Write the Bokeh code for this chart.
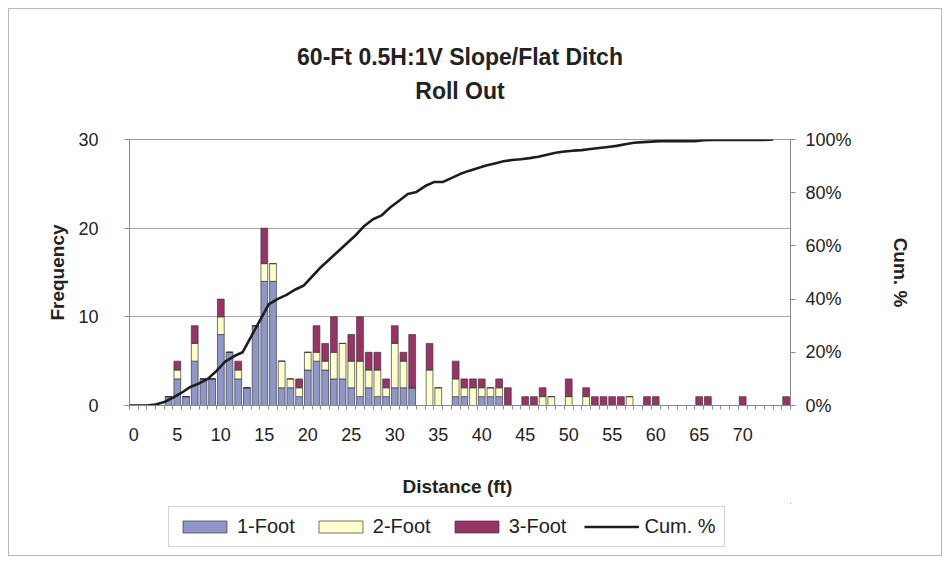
from bokeh.plotting import figure
from bokeh.layouts import column, row
from bokeh.models import Range1d, LinearAxis, FixedTicker, Legend, LegendItem, Label, ColumnDataSource, Spacer
from bokeh.embed import file_html
from bokeh.resources import INLINE

# ---------------- data ----------------
distance = list(range(76))
x_tick_values = [0, 5, 10, 15, 20, 25, 30, 35, 40, 45, 50, 55, 60, 65, 70]
x_tick_labels = ["0", "5", "10", "15", "20", "25", "30", "35", "40", "45", "50", "55", "60", "65", "70"]

one_foot = [0, 0, 0, 0, 1, 3, 1, 5, 3, 3,
            8, 6, 3, 2, 9, 14, 14, 2, 2, 1,
            4, 5, 4, 3, 3, 2, 1, 2, 1, 1,
            2, 2, 2, 0, 0, 0, 0, 1, 1, 0,
            1, 1, 1, 0, 0, 0, 0, 0, 0, 0,
            0, 0, 0, 0, 0, 0, 0, 0, 0, 0,
            0, 0, 0, 0, 0, 0, 0, 0, 0, 0,
            0, 0, 0, 0, 0, 0]
two_foot = [0, 0, 0, 0, 0, 1, 0, 2, 0, 0,
            2, 0, 1, 0, 0, 2, 2, 3, 1, 1,
            2, 1, 1, 3, 4, 3, 4, 2, 3, 1,
            5, 3, 0, 0, 4, 2, 0, 2, 1, 2,
            1, 1, 1, 0, 0, 0, 0, 1, 1, 0,
            1, 0, 1, 0, 0, 0, 0, 1, 0, 0,
            0, 0, 0, 0, 0, 0, 0, 0, 0, 0,
            0, 0, 0, 0, 0, 0]
three_foot = [0, 0, 0, 0, 0, 1, 0, 2, 0, 0,
              2, 0, 1, 0, 0, 4, 0, 0, 0, 1,
              0, 3, 2, 4, 0, 3, 5, 2, 2, 1,
              2, 1, 6, 0, 3, 0, 0, 2, 1, 1,
              1, 0, 1, 2, 0, 1, 1, 1, 0, 0,
              2, 0, 1, 1, 1, 1, 1, 0, 0, 1,
              1, 0, 0, 0, 0, 1, 1, 0, 0, 0,
              1, 0, 0, 0, 0, 1]
# cumulative percent line (points at bin edges)
cum_pct = [0, 0, 0, 0.4, 1.3, 3, 4.8, 7, 8.3, 10,
           13, 16.5, 18.5, 20, 26, 32, 38, 40, 41.5, 43.5,
           45, 48.5, 52, 55, 58, 61, 64, 67.5, 70, 71.5,
           74.5, 77, 79.5, 80.3, 82.5, 84, 84, 85.5, 87, 88.2,
           89.2, 90.2, 91, 91.8, 92.3, 92.6, 93, 93.5, 94.3, 95,
           95.5, 95.8, 96, 96.4, 96.8, 97.2, 97.6, 98.2, 98.8, 99,
           99.2, 99.4, 99.4, 99.4, 99.4, 99.4, 99.7, 99.8, 99.8, 99.8,
           99.8, 99.8, 99.8, 99.8, 100]
freq_ticks = [0, 10, 20, 30]
pct_ticks = [0, 20, 40, 60, 80, 100]
pct_labels = ["0%", "20%", "40%", "60%", "80%", "100%"]
series_names = ["1-Foot", "2-Foot", "3-Foot"]
series_colors = ["#8f97c9", "#ffffcc", "#993366"]
line_name = "Cum. %"
title_lines = ["60-Ft 0.5H:1V Slope/Flat Ditch", "Roll Out"]

FONT = "Liberation Sans"
TXT = "#222222"
AX = "#8a8a8a"
BORDER = "1px solid #b8b8b8"
W = 934

# ---------------- title strip (separate figure; texts sit inside its frame) ----------------
TH = 100
pt = figure(width=W, height=TH, x_range=Range1d(0, 1), y_range=Range1d(0, TH),
            output_backend="svg", toolbar_location=None, title=None,
            min_border_left=0, min_border_right=0, min_border_top=0, min_border_bottom=0)
pt.styles = {"border": BORDER, "border-bottom": "none"}
pt.axis.visible = False
pt.grid.visible = False
pt.outline_line_color = None
pt.background_fill_color = "white"
pt.border_fill_color = "white"
for txt, yv in zip(title_lines, [53, 19]):
    pt.add_layout(Label(x=0.5, y=yv, text=txt, text_align="center", text_baseline="middle",
                        text_font=FONT, text_font_style="bold", text_font_size="23px",
                        text_color=TXT))

# ---------------- main figure ----------------
H = 395
FL, FR, FT, FB = 120, 781, 31, 297   # frame edges within figure
p = figure(width=W, height=H, x_range=Range1d(-0.5, 75.5), y_range=Range1d(0, 30),
           output_backend="svg", toolbar_location=None, title=None,
           min_border_left=FL, min_border_right=W - FR,
           min_border_top=FT, min_border_bottom=H - FB)
p.styles = {"border-left": BORDER, "border-right": BORDER}
p.background_fill_color = "white"
p.border_fill_color = "white"
p.outline_line_color = "#9a9a9a"
p.extra_y_ranges = {"pct": Range1d(0, 100)}

src = ColumnDataSource(dict(x=distance, one=one_foot, two=two_foot, three=three_foot))
bars = p.vbar_stack(["one", "two", "three"], x="x", width=0.78, source=src,
                    fill_color=series_colors, line_color="#3a3a3a", line_width=0.7)

cum_x = [d - 0.5 for d in distance[:len(cum_pct)]]
ln = p.line(cum_x, cum_pct, y_range_name="pct", line_color="#1e1e1e", line_width=2.6)

p.xgrid.visible = False
p.ygrid.ticker = FixedTicker(ticks=freq_ticks[1:])
p.ygrid.grid_line_color = "#a8a8a8"
p.ygrid.grid_line_width = 1.2

def style_axis(ax, label, label_size, tick_size):
    ax.axis_line_color = AX
    ax.major_tick_line_color = AX
    ax.minor_tick_line_color = AX
    ax.major_label_text_font = FONT
    ax.major_label_text_font_size = tick_size
    ax.major_label_text_color = TXT
    ax.axis_label = label
    ax.axis_label_text_font = FONT
    ax.axis_label_text_font_style = "bold"
    ax.axis_label_text_font_size = label_size
    ax.axis_label_text_color = TXT

xa = p.xaxis[0]
style_axis(xa, "Distance  (ft)", "19px", "18px")
xa.ticker = FixedTicker(ticks=x_tick_values, minor_ticks=[d - 0.5 for d in distance] + [distance[-1] + 0.5])
xa.major_label_overrides = {v: l for v, l in zip(x_tick_values, x_tick_labels)}
xa.major_tick_out = 0
xa.major_tick_in = 0
xa.minor_tick_out = 4
xa.minor_tick_in = 0
xa.major_label_standoff = 18
xa.axis_label_standoff = 32

ya = p.yaxis[0]
style_axis(ya, "Frequency", "19px", "18px")
ya.ticker = FixedTicker(ticks=freq_ticks)
ya.major_tick_out = 5
ya.major_tick_in = 0
ya.minor_tick_out = 0
ya.major_label_standoff = 26
ya.axis_label_standoff = 7

ra = LinearAxis(y_range_name="pct", ticker=FixedTicker(ticks=pct_ticks))
style_axis(ra, "Cum. %", "19px", "18px")
ra.major_label_overrides = {v: l for v, l in zip(pct_ticks, pct_labels)}
ra.major_tick_out = 5
ra.major_tick_in = 0
ra.minor_tick_out = 0
ra.major_label_standoff = 10
ra.axis_label_standoff = 35
p.add_layout(ra, "right")

# ---------------- legend strip (separate figure so the legend is not clipped) ----------------
LH = 53
pl = figure(width=W, height=LH, x_range=Range1d(0, 1), y_range=Range1d(0, 1),
            output_backend="svg", toolbar_location=None, title=None,
            min_border_left=0, min_border_right=0, min_border_top=0, min_border_bottom=0)
pl.styles = {"border": BORDER, "border-top": "none"}
pl.axis.visible = False
pl.grid.visible = False
pl.outline_line_color = None
pl.background_fill_color = "white"
pl.border_fill_color = "white"

# key swatches: one out-of-view sample per series so the legend can draw its glyph
key_renderers = []
for c in series_colors:
    key_renderers.append(pl.vbar(x=[5], top=[5], bottom=[4], width=0.1, fill_color=c,
                                 line_color="#3a3a3a", line_width=0.7))
key_renderers.append(pl.line(x=[5, 6], y=[5, 5], line_color="#1e1e1e", line_width=2.6))

items = [LegendItem(label=n, renderers=[r]) for n, r in zip(series_names + [line_name], key_renderers)]
leg = Legend(items=items, orientation="horizontal", location=(39, 9))
leg.label_text_font = FONT
leg.label_text_font_size = "20px"
leg.label_text_color = TXT
leg.glyph_width = 55
leg.glyph_height = 15
leg.label_standoff = 5
leg.spacing = 18
leg.padding = 8
leg.margin = 0
leg.border_line_color = "#a8a8a8"
leg.background_fill_color = "white"
leg.background_fill_alpha = 1.0
pl.add_layout(leg)

page = column(Spacer(height=8), row(Spacer(width=8), column(pt, p, pl, spacing=0)), spacing=0)
open("out.html", "w").write(file_html(page, INLINE))
